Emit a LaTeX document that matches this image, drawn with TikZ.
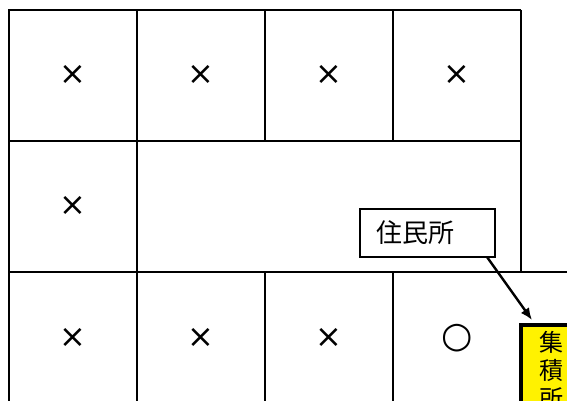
\documentclass[tikz,border=0pt]{standalone}
\usepackage{fontspec}
\setmainfont{DejaVu Sans}
\newfontfamily\jpfont{Noto Sans CJK JP}
\usetikzlibrary{arrows.meta}

\begin{document}
\begin{tikzpicture}[x=1pt, y=-1pt, line width=1.6pt,
    batsu/.style={font=\fontsize{32}{32}\selectfont, inner sep=0pt},
    maru/.style={font=\bfseries\fontsize{36}{36}\selectfont, inner sep=0pt},
    jumin box/.style={draw, line width=2.4pt, anchor=north west, outer sep=0pt,
        minimum height=48pt, text width=103pt, inner xsep=16pt, align=left,
        font=\jpfont\fontsize{26}{26}\selectfont},
    shuseki box/.style={draw, fill=yellow, line width=4pt, anchor=north west, outer sep=0pt,
        minimum width=60pt, inner ysep=6pt, align=center,
        font=\jpfont\fontsize{24}{28}\selectfont}]
    \useasboundingbox (0,0) rectangle (567,401);
    \clip (0,0) rectangle (567,401);

    % The grid of blocks
    \draw (521,10) -- (9,10) -- (9,401);
    \draw (521,10) -- (521,272);
    \draw (9,141) -- (521,141);
    \draw (9,272) -- (567,272);
    \foreach \x in {137,265,393} {
        \draw (\x,10) -- (\x,141);
    }
    \draw (137,141) -- (137,401);
    \foreach \x in {265,393} {
        \draw (\x,272) -- (\x,401);
    }

    % Marks in the blocks
    \foreach \x/\y [count=\i] in {73/75, 201/75, 329/75, 457/75, 73/206, 73/338, 201/338, 329/338} {
        \node[batsu] (ng\i) at (\x,\y) {×};
    }
    \node[maru] (ok) at (457,338) {○};

    % Labels
    \node[jumin box] (jumin) at (360,209) {住民所};
    \node[shuseki box] (shuseki) at (521,325) {集\\積\\所};
    \draw[line width=2.4pt, -{Latex[length=12pt,width=10pt]}]
        ([xshift=-8pt]jumin.south east) -- ([xshift=11pt,yshift=5pt]shuseki.north west);
\end{tikzpicture}
\end{document}
